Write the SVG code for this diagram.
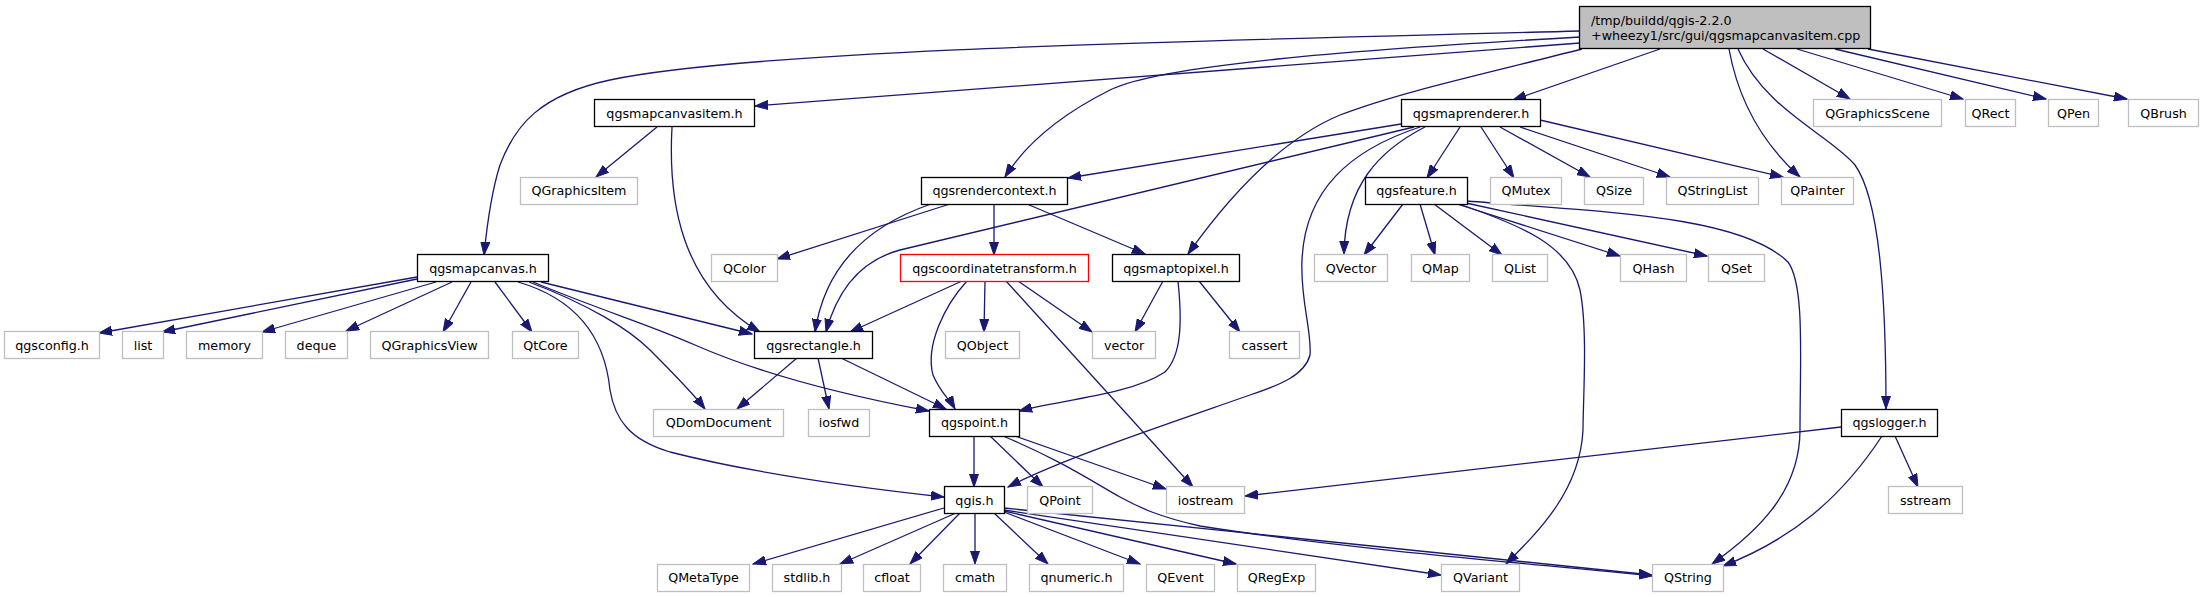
<svg xmlns="http://www.w3.org/2000/svg" width="2203" height="597" viewBox="0 0 2203 597">
<defs>
<marker id="ah" markerUnits="userSpaceOnUse" markerWidth="14" markerHeight="10" refX="13" refY="5" orient="auto">
<path d="M0,0.5 L13,5 L0,9.5 z" fill="#191970" stroke="#191970" stroke-width="1"/>
</marker>
<style>
.n rect{fill:#ffffff;stroke:#000000;stroke-width:1.3}
.x rect{fill:#ffffff;stroke:#bfbfbf;stroke-width:1.3}
.r rect{fill:#ffffff;stroke:#ff0000;stroke-width:1.3}
.root rect{fill:#bfbfbf;stroke:#000000;stroke-width:1.3}
text{font-family:"DejaVu Sans","Liberation Sans",sans-serif;font-size:12.7px;fill:#000000;text-anchor:middle}
.root text{text-anchor:start}
#edges path{fill:none;stroke:#191970;stroke-width:1.3;marker-end:url(#ah)}
</style>
</defs>
<rect width="2203" height="597" fill="#ffffff"/>
<g id="edges">
<path d="M1580,31 C1250,40 760,48 610,80 C540,95 515,125 500,165 C492,190 487,225 484,255"/>
<path d="M1580,43 L755,106"/>
<path d="M1580,37 C1350,50 1160,65 1110,90 C1060,115 1025,145 1005,177"/>
<path d="M1582,49 C1480,75 1400,92 1340,115 C1280,140 1230,195 1188,254"/>
<path d="M1660,49 L1513,100"/>
<path d="M1729,49 C1740,110 1770,150 1800,177"/>
<path d="M1738,49 C1765,110 1830,135 1855,165 C1880,200 1886,300 1886,409"/>
<path d="M1763,49 L1850,99"/>
<path d="M1797,49 L1963,99"/>
<path d="M1835,49 L2046,99"/>
<path d="M1868,49 L2127,99"/>
<path d="M1401,124 L1068,178"/>
<path d="M1414,127 L900,250 C870,258 840,280 826,332"/>
<path d="M1420,127 C1350,150 1305,190 1302,260 C1300,300 1312,330 1310,355 C1305,375 1280,385 1250,395 C1150,430 1060,460 1008,487"/>
<path d="M1425,127 C1380,150 1345,185 1344,254"/>
<path d="M1460,127 L1427,178"/>
<path d="M1481,127 L1514,178"/>
<path d="M1500,127 L1590,177"/>
<path d="M1520,127 L1670,177"/>
<path d="M1540,120 L1783,177"/>
<path d="M657,127 L596,177"/>
<path d="M672,127 C668,200 680,285 760,332"/>
<path d="M950,204 L777,259"/>
<path d="M931,204 C870,225 825,265 815,332"/>
<path d="M994,204 L994,255"/>
<path d="M1027,204 L1145,254"/>
<path d="M962,281 L850,332"/>
<path d="M985,281 L984,332"/>
<path d="M1018,281 L1092,332"/>
<path d="M967,281 C945,305 925,345 933,375 C940,392 950,400 955,409"/>
<path d="M1006,281 L1193,487"/>
<path d="M1163,281 L1135,332"/>
<path d="M1178,281 C1182,320 1182,355 1165,372 C1130,395 1060,400 1019,411"/>
<path d="M1199,281 L1240,332"/>
<path d="M1403,204 L1364,255"/>
<path d="M1420,204 L1435,255"/>
<path d="M1434,204 L1502,255"/>
<path d="M1457,204 L1620,256"/>
<path d="M1466,203 L1707,256"/>
<path d="M1459,204 C1520,225 1570,245 1580,290 C1588,330 1583,400 1583,430 C1580,490 1540,530 1506,564"/>
<path d="M1467,201 C1600,212 1740,215 1788,262 C1805,285 1800,360 1800,430 C1800,490 1760,530 1712,564"/>
<path d="M417,277 L99,333"/>
<path d="M417,279 L162,332"/>
<path d="M436,282 L262,332"/>
<path d="M452,282 L346,331"/>
<path d="M471,282 L443,332"/>
<path d="M495,282 L532,332"/>
<path d="M541,282 L752,334"/>
<path d="M529,282 C590,305 630,330 650,350 C675,375 692,392 705,409"/>
<path d="M533,282 C600,310 650,325 695,345 C770,378 860,398 929,411"/>
<path d="M518,282 C580,300 605,340 610,390 C615,420 630,440 670,452 C760,475 880,490 944,497"/>
<path d="M797,358 L737,409"/>
<path d="M818,358 L829,409"/>
<path d="M841,358 L946,409"/>
<path d="M974,436 L974,487"/>
<path d="M990,436 L1043,487"/>
<path d="M1015,436 L1166,489"/>
<path d="M1003,436 C1060,460 1090,480 1120,497 C1140,508 1160,517 1200,526 C1350,550 1550,565 1652,576"/>
<path d="M1841,427 L1245,496"/>
<path d="M1882,436 C1840,500 1790,540 1723,566"/>
<path d="M1895,436 L1918,487"/>
<path d="M944,508 L753,564"/>
<path d="M956,513 L840,564"/>
<path d="M960,513 L910,564"/>
<path d="M975,513 L975,564"/>
<path d="M994,513 L1048,564"/>
<path d="M1004,512 L1140,564"/>
<path d="M1004,511 L1236,564"/>
<path d="M1004,510 L1441,575"/>
<path d="M1004,508 L1652,575"/>
</g>
<g id="root" class="root"><rect x="1579.5" y="6.5" width="291" height="42"/><text x="1591" y="25">/tmp/buildd/qgis-2.2.0</text><text x="1591" y="40">+wheezy1/src/gui/qgsmapcanvasitem.cpp</text></g>
<g id="qgsmapcanvasitem_h" class="n"><rect x="594.5" y="99.5" width="160" height="27"/><text x="674.5" y="117.5">qgsmapcanvasitem.h</text></g>
<g id="qgsmaprenderer_h" class="n"><rect x="1401.5" y="99.5" width="139" height="27"/><text x="1471" y="117.5">qgsmaprenderer.h</text></g>
<g id="QGraphicsScene" class="x"><rect x="1813.5" y="99.5" width="128" height="27"/><text x="1877.5" y="117.5">QGraphicsScene</text></g>
<g id="QRect" class="x"><rect x="1965.5" y="99.5" width="50" height="27"/><text x="1990.5" y="117.5">QRect</text></g>
<g id="QPen" class="x"><rect x="2048.5" y="99.5" width="50" height="27"/><text x="2073.5" y="117.5">QPen</text></g>
<g id="QBrush" class="x"><rect x="2128.5" y="99.5" width="70" height="27"/><text x="2163.5" y="117.5">QBrush</text></g>
<g id="QGraphicsItem" class="x"><rect x="520.5" y="177.5" width="117" height="27"/><text x="579" y="195">QGraphicsItem</text></g>
<g id="qgsrendercontext_h" class="n"><rect x="921.5" y="177.5" width="146" height="27"/><text x="994.5" y="195">qgsrendercontext.h</text></g>
<g id="qgsfeature_h" class="n"><rect x="1365.5" y="177.5" width="102" height="27"/><text x="1416.5" y="195">qgsfeature.h</text></g>
<g id="QMutex" class="x"><rect x="1490.5" y="177.5" width="71" height="27"/><text x="1526" y="195">QMutex</text></g>
<g id="QSize" class="x"><rect x="1584.5" y="177.5" width="59" height="27"/><text x="1614" y="195">QSize</text></g>
<g id="QStringList" class="x"><rect x="1666.5" y="177.5" width="92" height="27"/><text x="1712.5" y="195">QStringList</text></g>
<g id="QPainter" class="x"><rect x="1781.5" y="177.5" width="72" height="27"/><text x="1817.5" y="195">QPainter</text></g>
<g id="qgsmapcanvas_h" class="n"><rect x="417.5" y="254.5" width="131" height="27"/><text x="483" y="272.5">qgsmapcanvas.h</text></g>
<g id="QColor" class="x"><rect x="711.5" y="254.5" width="66" height="27"/><text x="744.5" y="272.5">QColor</text></g>
<g id="qgscoordinatetransform_h" class="r"><rect x="900.5" y="254.5" width="188" height="27"/><text x="994.5" y="272.5">qgscoordinatetransform.h</text></g>
<g id="qgsmaptopixel_h" class="n"><rect x="1112.5" y="254.5" width="127" height="27"/><text x="1176" y="272.5">qgsmaptopixel.h</text></g>
<g id="QVector" class="x"><rect x="1314.5" y="254.5" width="73" height="27"/><text x="1351" y="272.5">QVector</text></g>
<g id="QMap" class="x"><rect x="1411.5" y="254.5" width="58" height="27"/><text x="1440.5" y="272.5">QMap</text></g>
<g id="QList" class="x"><rect x="1492.5" y="254.5" width="55" height="27"/><text x="1520" y="272.5">QList</text></g>
<g id="QHash" class="x"><rect x="1620.5" y="254.5" width="66" height="27"/><text x="1653.5" y="272.5">QHash</text></g>
<g id="QSet" class="x"><rect x="1708.5" y="254.5" width="56" height="27"/><text x="1736.5" y="272.5">QSet</text></g>
<g id="qgsconfig_h" class="x"><rect x="4.5" y="331.5" width="95" height="27"/><text x="52" y="349.5">qgsconfig.h</text></g>
<g id="list" class="x"><rect x="122.5" y="331.5" width="41" height="27"/><text x="143" y="349.5">list</text></g>
<g id="memory" class="x"><rect x="186.5" y="331.5" width="76" height="27"/><text x="224.5" y="349.5">memory</text></g>
<g id="deque" class="x"><rect x="285.5" y="331.5" width="62" height="27"/><text x="316.5" y="349.5">deque</text></g>
<g id="QGraphicsView" class="x"><rect x="370.5" y="331.5" width="118" height="27"/><text x="429.5" y="349.5">QGraphicsView</text></g>
<g id="QtCore" class="x"><rect x="512.5" y="331.5" width="66" height="27"/><text x="545.5" y="349.5">QtCore</text></g>
<g id="qgsrectangle_h" class="n"><rect x="754.5" y="331.5" width="118" height="27"/><text x="813.5" y="349.5">qgsrectangle.h</text></g>
<g id="QObject" class="x"><rect x="945.5" y="331.5" width="74" height="27"/><text x="982.5" y="349.5">QObject</text></g>
<g id="vector" class="x"><rect x="1092.5" y="331.5" width="63" height="27"/><text x="1124" y="349.5">vector</text></g>
<g id="cassert" class="x"><rect x="1229.5" y="331.5" width="70" height="27"/><text x="1264.5" y="349.5">cassert</text></g>
<g id="QDomDocument" class="x"><rect x="653.5" y="409.5" width="130" height="27"/><text x="718.5" y="427">QDomDocument</text></g>
<g id="iosfwd" class="x"><rect x="808.5" y="409.5" width="61" height="27"/><text x="839" y="427">iosfwd</text></g>
<g id="qgspoint_h" class="n"><rect x="929.5" y="409.5" width="90" height="27"/><text x="974.5" y="427">qgspoint.h</text></g>
<g id="qgslogger_h" class="n"><rect x="1841.5" y="409.5" width="96" height="27"/><text x="1889.5" y="427">qgslogger.h</text></g>
<g id="qgis_h" class="n"><rect x="944.5" y="486.5" width="60" height="27"/><text x="974.5" y="504.5">qgis.h</text></g>
<g id="QPoint" class="x"><rect x="1027.5" y="486.5" width="65" height="27"/><text x="1060" y="504.5">QPoint</text></g>
<g id="iostream" class="x"><rect x="1166.5" y="486.5" width="78" height="27"/><text x="1205.5" y="504.5">iostream</text></g>
<g id="sstream" class="x"><rect x="1888.5" y="486.5" width="74" height="27"/><text x="1925.5" y="504.5">sstream</text></g>
<g id="QMetaType" class="x"><rect x="657.5" y="564.5" width="92" height="27"/><text x="703.5" y="582">QMetaType</text></g>
<g id="stdlib_h" class="x"><rect x="772.5" y="564.5" width="69" height="27"/><text x="807" y="582">stdlib.h</text></g>
<g id="cfloat" class="x"><rect x="863.5" y="564.5" width="57" height="27"/><text x="892" y="582">cfloat</text></g>
<g id="cmath" class="x"><rect x="943.5" y="564.5" width="63" height="27"/><text x="975" y="582">cmath</text></g>
<g id="qnumeric_h" class="x"><rect x="1029.5" y="564.5" width="94" height="27"/><text x="1076.5" y="582">qnumeric.h</text></g>
<g id="QEvent" class="x"><rect x="1146.5" y="564.5" width="68" height="27"/><text x="1180.5" y="582">QEvent</text></g>
<g id="QRegExp" class="x"><rect x="1237.5" y="564.5" width="78" height="27"/><text x="1276.5" y="582">QRegExp</text></g>
<g id="QVariant" class="x"><rect x="1441.5" y="564.5" width="78" height="27"/><text x="1480.5" y="582">QVariant</text></g>
<g id="QString" class="x"><rect x="1652.5" y="564.5" width="71" height="27"/><text x="1688" y="582">QString</text></g>
</svg>
